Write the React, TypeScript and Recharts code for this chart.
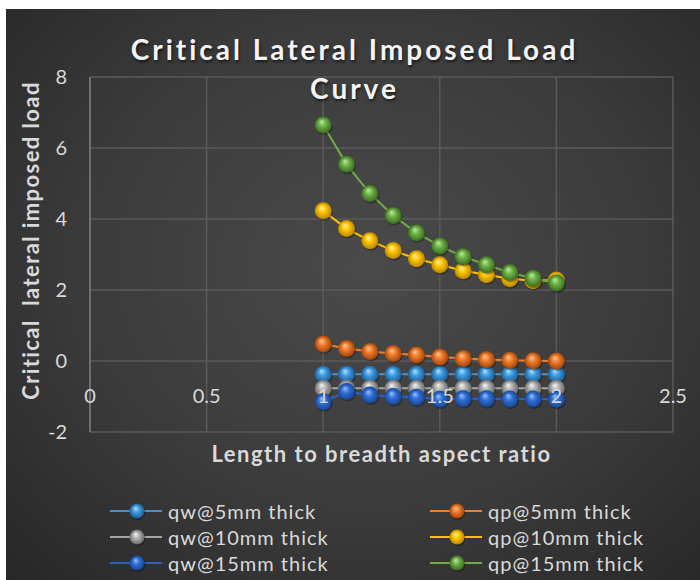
import React from 'react';
import { LineChart, Line, XAxis, YAxis, CartesianGrid } from 'recharts';

// aspect ratios (x) and critical loads per series
const XS = [1, 1.1, 1.2, 1.3, 1.4, 1.5, 1.6, 1.7, 1.8, 1.9, 2];
const QW5 = [-0.37, -0.37, -0.37, -0.37, -0.37, -0.37, -0.37, -0.37, -0.37, -0.37, -0.37];
const QP5 = [0.48, 0.35, 0.27, 0.21, 0.17, 0.11, 0.07, 0.04, 0.02, 0.01, 0.0];
const QW10 = [-0.77, -0.77, -0.77, -0.77, -0.77, -0.77, -0.77, -0.77, -0.77, -0.77, -0.77];
const QP10 = [4.23, 3.73, 3.39, 3.11, 2.88, 2.71, 2.54, 2.43, 2.32, 2.26, 2.28];
const QW15 = [-1.15, -0.86, -0.96, -1.0, -1.02, -1.08, -1.06, -1.06, -1.07, -1.07, -1.08];
const QP15 = [6.65, 5.54, 4.72, 4.1, 3.61, 3.24, 2.94, 2.71, 2.49, 2.33, 2.2];

const X_TICKS = [0, 0.5, 1, 1.5, 2, 2.5];
const Y_TICKS = [-2, 0, 2, 4, 6, 8];

const SERIES = [
  { key: 'qw5', name: 'qw@5mm thick', values: QW5, line: '#4a90d0', base: '#3d9be0', light: '#b4e0ff', dark: '#1d5d95' },
  { key: 'qp5', name: 'qp@5mm thick', values: QP5, line: '#ed7d31', base: '#ee7a2a', light: '#ffc896', dark: '#a0460c' },
  { key: 'qw10', name: 'qw@10mm thick', values: QW10, line: '#a5a5a5', base: '#b0b0b0', light: '#f6f6f6', dark: '#6a6a6a' },
  { key: 'qp10', name: 'qp@10mm thick', values: QP10, line: '#ffc000', base: '#ffc400', light: '#fff3a8', dark: '#b58600' },
  { key: 'qw15', name: 'qw@15mm thick', values: QW15, line: '#2e62c0', base: '#2f6fd6', light: '#9cc2ff', dark: '#1a4591' },
  { key: 'qp15', name: 'qp@15mm thick', values: QP15, line: '#70ad47', base: '#6cb045', light: '#c0eaa2', dark: '#3c6b21' },
];

const W = 694;
const H = 571;
const M = { top: 68, right: 27, bottom: 147, left: 0 };
const Y_MIN = -2;
const Y_MAX = 8;
const PLOT_H = H - M.top - M.bottom - 1;
const ZERO_FROM_BOTTOM = (PLOT_H * (0 - Y_MIN)) / (Y_MAX - Y_MIN);

const TEXT = '#d9d9d9';
const FONT = 'Lato, "Open Sans", sans-serif';

const data = XS.map((x, i) => {
  const row: Record<string, number> = { x };
  SERIES.forEach((s) => {
    row[s.key] = s.values[i];
  });
  return row;
});

const GradDefs = () => (
  <defs>
    {SERIES.map((s, i) => (
      <radialGradient key={s.key} id={`sph-${i}`} cx="0.5" cy="0.5" r="0.5" fx="0.4" fy="0.3">
        <stop offset="0%" stopColor={s.light} />
        <stop offset="45%" stopColor={s.base} />
        <stop offset="100%" stopColor={s.dark} />
      </radialGradient>
    ))}
  </defs>
);

const Sphere = ({ cx, cy, idx, r = 8.5 }: { cx: number; cy: number; idx: number; r?: number }) => (
  <g>
    <circle cx={cx + 1} cy={cy + 1.5} r={r} fill="rgba(0,0,0,0.3)" />
    <circle cx={cx} cy={cy} r={r} fill={`url(#sph-${idx})`} />
  </g>
);

const XTick = (props: any) => {
  const { x, y, payload } = props;
  return (
    <text x={x} y={y - ZERO_FROM_BOTTOM + 34} textAnchor="middle" dominantBaseline="central" fill={TEXT} fontSize={20} fontFamily={FONT}>
      {payload.value}
    </text>
  );
};

const YLabel = (props: any) => {
  const { viewBox } = props;
  const cx = viewBox.x + 24;
  const cy = viewBox.y + viewBox.height / 2 - 14;
  return (
    <text
      x={cx}
      y={cy}
      transform={`rotate(-90, ${cx}, ${cy})`}
      textAnchor="middle"
      dominantBaseline="central"
      fill={TEXT}
      fontSize={22}
      fontWeight={700}
      fontFamily={FONT}
      letterSpacing={1.4}
      style={{ whiteSpace: 'pre' }}
    >
      {'Critical  lateral imposed load'}
    </text>
  );
};

const XLabel = (props: any) => {
  const { viewBox } = props;
  return (
    <text
      x={viewBox.x + viewBox.width / 2}
      y={viewBox.y + 30}
      textAnchor="middle"
      fill={TEXT}
      fontSize={22}
      fontWeight={700}
      fontFamily={FONT}
      letterSpacing={1.5}
    >
      Length to breadth aspect ratio
    </text>
  );
};

const LegendBox = () => (
  <div style={{ position: 'absolute', left: 104, top: 489, display: 'grid', gridTemplateColumns: '320px 320px' }}>
    {SERIES.map((s, i) => (
      <div key={s.key} style={{ display: 'flex', alignItems: 'center', height: 26 }}>
        <svg width={58} height={26}>
          <line x1={0} y1={13} x2={52} y2={13} stroke={s.line} strokeWidth={2} />
          <Sphere cx={27} cy={13} idx={i} r={7.5} />
        </svg>
        <span style={{ color: TEXT, fontSize: 20, fontFamily: FONT, letterSpacing: 1, whiteSpace: 'nowrap' }}>{s.name}</span>
      </div>
    ))}
  </div>
);

export default function App() {
  return (
    <div
      style={{
        position: 'absolute',
        left: 6,
        top: 9,
        width: W,
        height: H,
        background: 'radial-gradient(ellipse at 52% 45%, #4a4a4a 0%, #3b3b3b 55%, #272727 100%)',
        overflow: 'hidden',
      }}
    >
      <svg width={0} height={0} style={{ position: 'absolute' }}>
        <GradDefs />
      </svg>
      <div
        style={{
          position: 'absolute',
          left: 0,
          top: 21,
          width: W,
          paddingLeft: 3,
          boxSizing: 'border-box',
          textAlign: 'center',
          color: '#f4f4f4',
          fontFamily: FONT,
          fontWeight: 700,
          fontSize: 28,
          lineHeight: '39px',
          letterSpacing: 3,
          textShadow: '1px 2px 3px rgba(0,0,0,0.6)',
          zIndex: 2,
        }}
      >
        Critical Lateral Imposed Load
        <br />
        Curve
      </div>
      <LineChart width={W} height={H} data={data} margin={M} style={{ position: 'absolute', left: 0, top: 0 }}>
        <CartesianGrid stroke="#5a5a5a" strokeWidth={1.5} />
        <XAxis
          dataKey="x"
          type="number"
          domain={[0, 2.5]}
          ticks={X_TICKS}
          height={1}
          axisLine={false}
          tickLine={false}
          tickSize={0}
          tickMargin={0}
          tick={<XTick />}
          interval={0}
          label={<XLabel />}
        />
        <YAxis
          type="number"
          domain={[Y_MIN, Y_MAX]}
          ticks={Y_TICKS}
          width={84}
          axisLine={{ stroke: '#7a7a7a', strokeWidth: 1.5 }}
          tickLine={false}
          tickSize={0}
          tickMargin={23}
          tick={{ fill: TEXT, fontSize: 20, fontFamily: FONT }}
          interval={0}
          label={<YLabel />}
        />
        {SERIES.map((s, i) => (
          <Line
            key={s.key}
            dataKey={s.key}
            name={s.name}
            stroke={s.line}
            strokeWidth={2}
            isAnimationActive={false}
            dot={(p: any) => <Sphere key={`${s.key}-${p.index}`} cx={p.cx} cy={p.cy} idx={i} />}
            activeDot={false}
          />
        ))}
      </LineChart>
      <LegendBox />
    </div>
  );
}
